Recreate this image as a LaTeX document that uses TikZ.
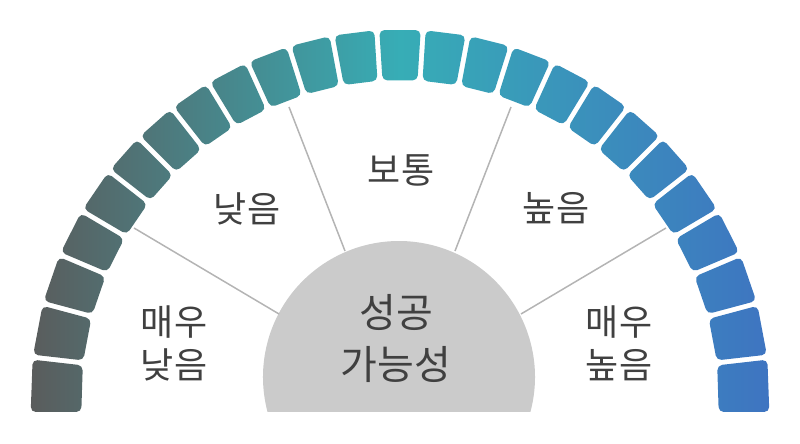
\documentclass[tikz,border=0pt]{standalone}
\usepackage{fontspec}
\newfontfamily\krfont{Noto Sans CJK KR}
\definecolor{gL}{RGB}{90,92,92}
\definecolor{gM}{RGB}{55,173,182}
\definecolor{gR}{RGB}{62,116,193}
\definecolor{hubgray}{RGB}{203,203,203}
\definecolor{linegray}{RGB}{180,180,180}
\definecolor{txtgray}{RGB}{64,64,64}
\pgfdeclarehorizontalshading{arcshade}{100bp}{color(0bp)=(gL); color(25bp)=(gL); color(50bp)=(gM); color(75bp)=(gR); color(100bp)=(gR)}
\tikzset{
  label36/.style={font=\krfont\fontsize{36}{43}\selectfont, text=txtgray, align=center, inner sep=0pt},
  label40/.style={font=\krfont\fontsize{40}{52}\selectfont, text=txtgray, align=center, inner sep=0pt},
  divider/.style={draw=linegray, line width=1.5pt},
}
\begin{document}
\begin{tikzpicture}[x=1pt,y=1pt]
\useasboundingbox (0,0) rectangle (800,444);
% segmented arc
\begin{scope}[shift={(400,45)}]
  \begin{scope}
    \clip[rounded corners=5pt]
      foreach \a/\b in {86.4/93.6, 93.6/100.6, 100.6/107.5, 107.5/114.4, 114.4/121.3, 121.3/128.1, 128.1/135, 135/141.9, 141.9/149.4, 149.4/157, 157/165, 165/173.5,
                        79.4/86.4, 72.5/79.4, 65.6/72.5, 58.7/65.6, 51.9/58.7, 45/51.9, 38.1/45, 30.6/38.1, 23/30.6, 15/23, 6.5/15}
      { ([shift={(\a+90:2.5)}]\a:319) -- ([shift={(\a+90:2.5)}]\a:369.5) -- ([shift={(\b-90:2.5)}]\b:369.5) -- ([shift={(\b-90:2.5)}]\b:319) -- cycle }
      ([shift={(173.5+90:2.5)}]173.5:319) -- ([shift={(173.5+90:2.5)}]173.5:369.5) -- (-369.3,-13) -- (-318.7,-13) -- cycle
      ([shift={(6.5-90:2.5)}]6.5:319) -- ([shift={(6.5-90:2.5)}]6.5:369.5) -- (369.3,-13) -- (318.7,-13) -- cycle;
    \shade[shading=arcshade] (-370,-15) rectangle (370,372);
  \end{scope}
\end{scope}
% central half disc
\fill[hubgray] (530.4,32) arc[start angle=-14.9, end angle=194.9, radius=136] -- cycle;
% dividers
\coordinate (d1o) at (134,216); \coordinate (d1i) at (279,130);
\coordinate (d2o) at (289,337); \coordinate (d2i) at (345,193);
\coordinate (d3o) at (511,337); \coordinate (d3i) at (455,193);
\coordinate (d4o) at (666,216); \coordinate (d4i) at (521,130);
\draw[divider] (d1o) -- (d1i);
\draw[divider] (d2o) -- (d2i);
\draw[divider] (d3o) -- (d3i);
\draw[divider] (d4o) -- (d4i);
% labels
\node[label36] (vlow) at (174,101) {매우\\낮음};
\node[label36] (low) at (247,235) {낮음};
\node[label36] (mid) at (401,274) {보통};
\node[label36] (high) at (556,236) {높음};
\node[label36] (vhigh) at (619,101) {매우\\높음};
\node[label40] (hub) at (396,105) {성공\\가능성};
\end{tikzpicture}
\end{document}
